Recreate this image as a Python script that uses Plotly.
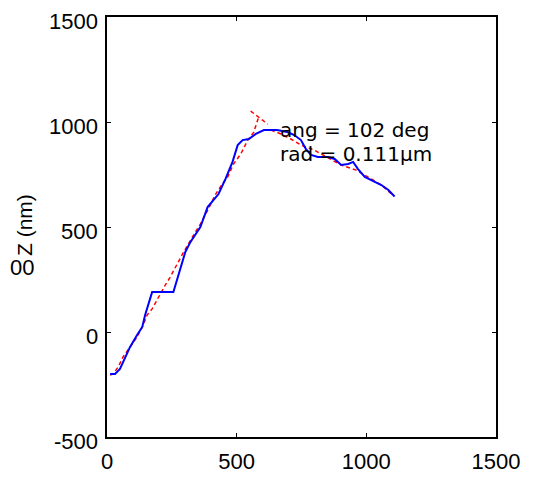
import plotly.graph_objects as go

# Measured trace (blue, solid)
blue_x = [12, 31, 50, 70, 89, 116, 136, 147, 159, 174, 256, 264, 275, 291, 302, 322, 341, 360,
          388, 430, 457, 484, 504, 523, 547, 574, 605, 656, 695, 722, 748, 767, 787, 813, 852,
          878, 903, 930, 949, 968, 994, 1019, 1058, 1085, 1109]
blue_y = [-200, -200, -176, -119, -71, -14, 24, 81, 133, 190, 190, 224, 276, 343, 381, 429, 467, 500,
          595, 657, 729, 810, 890, 914, 919, 943, 962, 962, 952, 938, 914, 871, 843, 833, 833,
          824, 795, 800, 810, 776, 738, 724, 700, 676, 645]

# Fitted trace (red, dashed) with the apex marker
red_x = [12, 23, 43, 62, 89, 116, 136, 155, 174, 194, 225, 244, 264, 291, 329, 360, 391, 419, 445,
         465, 488, 516, 543, 566, 585, None, 554, 620, None, 632, 671, 709, 748, 798, 845, 903,
         961, 1008, 1058, 1097]
red_y = [-205, -200, -167, -119, -71, -24, 24, 81, 110, 157, 224, 262, 310, 371, 452, 514, 586, 657,
         705, 738, 800, 848, 914, 952, 1024, None, 1052, 990, None, 962, 943, 919, 890, 867, 833,
         795, 771, 738, 700, 657]

x_ticks = [0, 500, 1000, 1500]
y_ticks = [-500, 0, 500, 1000, 1500]
ann_lines = ["ang = 102 deg", "rad = 0.111\u00b5m"]
y_title = "Z (nm)"
stray_text = "00"

FONT = "Liberation Sans, Arial, sans-serif"
FONT2 = "DejaVu Sans, Liberation Sans, sans-serif"

fig = go.Figure()
fig.add_trace(go.Scatter(x=red_x, y=red_y, mode="lines",
                         line=dict(color="#ff0000", width=1.5, dash="4px,3px"),
                         connectgaps=False, showlegend=False))
fig.add_trace(go.Scatter(x=blue_x, y=blue_y, mode="lines",
                         line=dict(color="#0000ff", width=2),
                         showlegend=False))

axis_common = dict(showgrid=False, zeroline=False, showline=True, linecolor="black",
                   linewidth=1.5, mirror="ticks", ticks="inside", ticklen=4,
                   tickcolor="black",
                   tickfont=dict(family=FONT, size=22, color="black"))

fig.update_xaxes(range=[0, 1500], tickvals=x_ticks, ticktext=[str(v) for v in x_ticks],
                 ticklabelstandoff=4, **axis_common)
fig.update_yaxes(range=[-500, 1500], tickvals=y_ticks, showticklabels=False,
                 **axis_common)

# y tick labels (sit slightly below their ticks, as in the reference)
for v in y_ticks:
    fig.add_annotation(x=0, y=v, xref="paper", yref="y", text=str(v), showarrow=False,
                       xanchor="right", yanchor="middle", xshift=-7, yshift=-4,
                       font=dict(family=FONT, size=22, color="black"))

fig.add_annotation(x=660, y=962, xref="x", yref="y", text=ann_lines[0], showarrow=False,
                   xanchor="left", yanchor="middle",
                   font=dict(family=FONT2, size=20, color="black"))
fig.add_annotation(x=660, y=847, xref="x", yref="y", text=ann_lines[1], showarrow=False,
                   xanchor="left", yanchor="middle",
                   font=dict(family=FONT2, size=20, color="black"))

# y-axis title placed by pixel offsets from the plot's left edge
fig.add_annotation(x=0, y=0.5, xref="paper", yref="paper", text=y_title, showarrow=False,
                   textangle=-90, xanchor="center", yanchor="middle",
                   xshift=-83, yshift=2,
                   font=dict(family=FONT, size=21, color="black"))
fig.add_annotation(x=0, y=0.5, xref="paper", yref="paper", text=stray_text, showarrow=False,
                   xanchor="left", yanchor="middle", xshift=-99, yshift=-40,
                   font=dict(family=FONT, size=22, color="black"))

# page body adds an 8px offset, so margins are shifted by 8px
fig.update_layout(width=537, height=478, paper_bgcolor="white", plot_bgcolor="white",
                  margin=dict(l=99, r=49, t=9, b=49, autoexpand=False))

fig.write_html("out.html")
